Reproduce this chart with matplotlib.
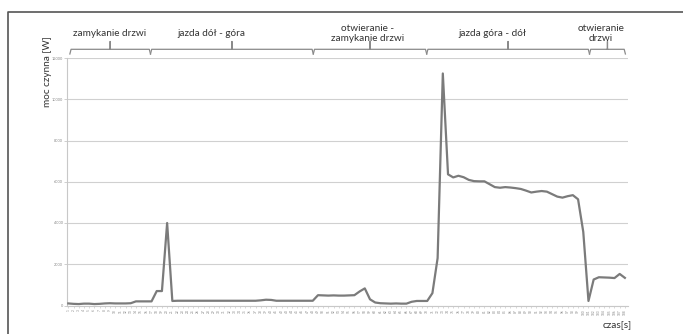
import matplotlib
matplotlib.use("Agg")
import matplotlib.pyplot as plt
import matplotlib.transforms as mtransforms
from matplotlib.lines import Line2D
import numpy as np

plt.rcParams['font.family'] = ['Lato', 'DejaVu Sans']

# ---- data ----
power = [100, 80, 70, 90, 90, 70, 80, 100, 110, 100, 100, 100, 110,          # 0-12
         200, 200, 200, 200, 700, 700, 4000,                                 # 13-19
         220, 230, 230, 230, 230, 230, 230, 230, 230, 230, 230, 230, 230,    # 20-32
         230, 230, 230, 230, 250, 280, 270, 230, 230, 230, 230, 230, 230,    # 33-45
         230, 230,                                                           # 46-47
         500, 490, 480, 490, 480, 480, 490, 500, 680, 830,                   # 48-57
         300, 145, 110, 100, 90, 100, 90, 90,                                # 58-65
         180, 220, 220, 220, 600, 2300, 11250,                               # 66-72
         6360, 6210, 6290, 6220, 6090, 6030, 6020, 6020, 5880, 5740,         # 73-82
         5710, 5740, 5720, 5690, 5650, 5570, 5480, 5520, 5550, 5520,         # 83-92
         5400, 5280, 5230, 5300, 5350, 5150, 3570, 220,                      # 93-100
         1260, 1370, 1360, 1350, 1330, 1530, 1340]                           # 101-107
time_labels = [str(i + 1) for i in range(len(power))]
y_ticks = [0, 2000, 4000, 6000, 8000, 10000, 12000]

phase_names = ["zamykanie drzwi", "jazda dół - góra", "otwieranie -\nzamykanie drzwi",
               "jazda góra - dół", "otwieranie\ndrzwi"]
phase_bounds = [0.3, 15.8, 47.1, 68.9, 100.2, 107.1]
phase_label_x = [8.0, 27.5, 57.6, 81.5, 102.4]

# ---- figure ----
W, H = 683, 334
fig = plt.figure(figsize=(W / 100, H / 100), dpi=100)
fig.patch.set_facecolor('white')

def fy(px):
    return 1 - px / H

ax = fig.add_axes([67 / W, fy(305.5), 561 / W, (305.5 - 58) / H])
x = np.arange(len(power))
ax.plot(x, power, color='#7b7b7b', lw=1.6, solid_joinstyle='round', zorder=3)

ax.set_ylim(0, 12000)
ax.set_xlim(-0.25, 107.6)
ax.set_yticks(y_ticks)
ax.set_yticklabels([str(v) for v in y_ticks], fontsize=2.8, color='#888888')
ax.set_xticks(x)
ax.set_xticklabels(time_labels, fontsize=2.3, rotation=90, color='#888888')
ax.tick_params(axis='y', length=2, width=0.5, color='#bbbbbb', pad=1)
ax.tick_params(axis='x', length=1.5, width=0.4, color='#bbbbbb', pad=1)
ax.grid(axis='y', color='#d0d0d0', lw=0.8)
ax.set_axisbelow(True)
for s in ['top', 'right']:
    ax.spines[s].set_visible(False)
ax.spines['left'].set_color('#c8c8c8')
ax.spines['left'].set_linewidth(0.8)
ax.spines['bottom'].set_color('#c8c8c8')
ax.spines['bottom'].set_linewidth(0.8)

fig.text(48 / W, fy(72), "moc czynna [W]", rotation=90, ha='center', va='center',
         fontsize=7.2, color='#333333')
fig.text(617 / W, fy(326), "czas[s]", ha='center', va='center', fontsize=7.2,
         color='#333333')

# ---- phase brackets ----
trans = mtransforms.blended_transform_factory(ax.transData, fig.transFigure)
px_per_unit = 5.2
d = 1.2 / px_per_unit
for k in range(len(phase_names)):
    x0 = phase_bounds[k]
    x1 = phase_bounds[k + 1]
    xc = (x0 + x1) / 2
    xs = [x0, x0 + d, xc - d * 0.3, xc, xc, xc, xc + d * 0.3, x1 - d, x1]
    ys = [54, 49.3, 49.3, 49.3, 41.5, 49.3, 49.3, 49.3, 54]
    fig.add_artist(Line2D(xs, [fy(v) for v in ys], transform=trans,
                          color='#8a8a8a', lw=0.9, solid_joinstyle='round'))
    name = phase_names[k]
    ylab = 33 if '\n' not in name else 33.5
    fig.text(phase_label_x[k], fy(ylab), name, transform=trans, ha='center',
             va='center', fontsize=7.2, color='#333333', linespacing=1.25)

# ---- outer frame (left and top edges visible) ----
fig.add_artist(Line2D([8.3 / W, 8.3 / W, 1.0], [0.0, fy(12.3), fy(12.3)],
                      transform=fig.transFigure, color='#555555', lw=1.2))

fig.savefig('out.png', dpi=100, facecolor='white')
